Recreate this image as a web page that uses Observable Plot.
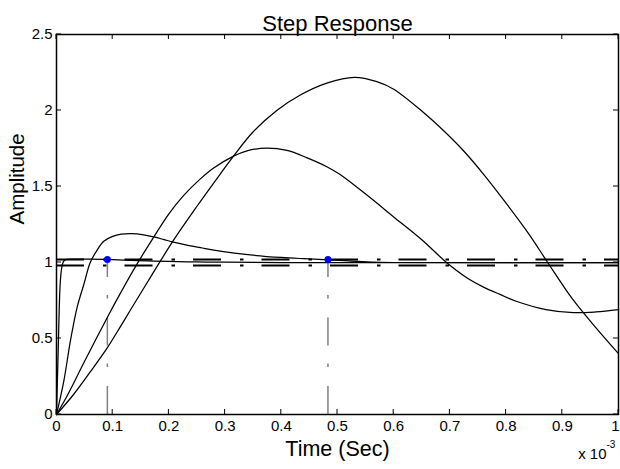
<!DOCTYPE html>
<html><head><meta charset="utf-8">
<script src="https://cdn.jsdelivr.net/npm/d3@7"></script>
<script src="https://cdn.jsdelivr.net/npm/@observablehq/plot@0.6"></script>
<style>html,body{margin:0;padding:0;background:#fff;}</style>
</head><body><div id="chart"></div>
<script>
// time in units of 1e-3 s
const tA = [0, 0.003, 0.006, 0.008, 0.010, 0.013, 0.018, 0.03, 0.06, 0.09, 0.12, 0.16, 0.2, 0.25, 0.3, 0.4, 0.6, 1.0];
const yA = [0, 0.42, 0.82, 0.93, 0.98, 1.01, 1.02, 1.022, 1.022, 1.02, 1.016, 1.011, 1.007, 1.004, 1.002, 1.0, 1.0, 1.0];

const tB = [0, 0.013, 0.025, 0.037, 0.049, 0.06, 0.072, 0.084, 0.1, 0.115, 0.134, 0.155, 0.173, 0.19, 0.208, 0.23, 0.256, 0.291, 0.345, 0.4, 0.44, 0.483, 0.52, 0.56, 0.6, 1.0];
const yB = [0, 0.22, 0.49, 0.71, 0.86, 1.0, 1.08, 1.14, 1.172, 1.186, 1.19, 1.182, 1.168, 1.152, 1.134, 1.116, 1.098, 1.075, 1.05, 1.033, 1.025, 1.018, 1.01, 1.003, 1.0, 1.0];

const tC = [0, 0.02, 0.05, 0.0906, 0.114, 0.14, 0.173, 0.2, 0.226, 0.256, 0.279, 0.315, 0.339, 0.374, 0.41, 0.445, 0.481, 0.504, 0.55, 0.6, 0.65, 0.694, 0.73, 0.759, 0.789, 0.818, 0.871, 0.92, 0.96, 1.0];
const yC = [0, 0.13, 0.35, 0.64, 0.8, 0.97, 1.167, 1.32, 1.44, 1.55, 1.62, 1.70, 1.735, 1.752, 1.737, 1.69, 1.63, 1.58, 1.45, 1.30, 1.15, 1.0, 0.9, 0.84, 0.79, 0.745, 0.69, 0.67, 0.675, 0.69];

const tD = [0, 0.03, 0.06, 0.0906, 0.114, 0.131, 0.17, 0.208, 0.25, 0.291, 0.315, 0.35, 0.392, 0.433, 0.481, 0.53, 0.57, 0.6, 0.652, 0.688, 0.723, 0.76, 0.8, 0.84, 0.874, 0.918, 0.96, 1.0];
const yD = [0, 0.13, 0.28, 0.44, 0.58, 0.684, 0.92, 1.145, 1.37, 1.58, 1.70, 1.86, 2.0, 2.1, 2.18, 2.218, 2.19, 2.14, 1.99, 1.87, 1.74, 1.58, 1.39, 1.19, 1.0, 0.76, 0.57, 0.40];

const settleLevels = [0.98, 1.02];
const settleTimes = [0.0905, 0.483];
const settleValues = [1.02, 1.02];

const xTicks = [0, 0.1, 0.2, 0.3, 0.4, 0.5, 0.6, 0.7, 0.8, 0.9, 1];
const xTickLabels = ["0", "0.1", "0.2", "0.3", "0.4", "0.5", "0.6", "0.7", "0.8", "0.9", "1"];
const yTicks = [0, 0.5, 1, 1.5, 2, 2.5];
const yTickLabels = ["0", "0.5", "1", "1.5", "2", "2.5"];

const titleText = "Step Response";
const xLabel = "Time (Sec)";
const yLabel = "Amplitude";
const xMult = "x 10";
const xExp = "-3";

const rows = (t, y, name) => t.map((d, i) => ({t: d, y: y[i], name}));
const curves = [rows(tA, yA, "A"), rows(tB, yB, "B"), rows(tC, yC, "C"), rows(tD, yD, "D")];
const settle = settleTimes.map((t, i) => ({t, y: settleValues[i]}));
const dashDot = "28,19,3.5,18";
const font = "'Liberation Sans', Arial, Helvetica, sans-serif";
const fmtX = d => xTickLabels[xTicks.indexOf(d)];
const lastX = xTicks[xTicks.length - 1];

const chart = Plot.plot({
  width: 620, height: 469,
  marginTop: 34, marginBottom: 55, marginLeft: 56, marginRight: 2,
  style: {fontFamily: font, background: "white", color: "black"},
  x: {domain: [0, 1]},
  y: {domain: [0, 2.5]},
  marks: [
    Plot.ruleY(settleLevels, {stroke: "black", strokeWidth: 2, strokeDasharray: dashDot}),
    Plot.ruleX(settle, {x: "t", y1: 0, y2: "y", stroke: "#808080", strokeWidth: 1.5, strokeDasharray: dashDot}),
    ...curves.map(c => Plot.line(c, {x: "t", y: "y", stroke: "black", strokeWidth: 1.25, curve: "catmull-rom"})),
    Plot.dot(settle, {x: "t", y: "y", fill: "blue", r: 3.5}),
    Plot.axisX(xTicks.filter(d => d !== lastX), {anchor: "bottom", tickSize: 0, tickPadding: 6, fontSize: 15,
      tickFormat: fmtX, label: null}),
    Plot.axisX([lastX], {anchor: "bottom", tickSize: 0, tickPadding: 6, fontSize: 15, dx: -3,
      tickFormat: fmtX, label: null}),
    Plot.axisY(yTicks, {anchor: "left", tickSize: 0, tickPadding: 4, fontSize: 15,
      tickFormat: d => yTickLabels[yTicks.indexOf(d)], label: null}),
    Plot.frame({stroke: "black", strokeWidth: 1.5}),
    Plot.text([titleText], {text: d => d, frameAnchor: "top", dy: -19, fontSize: 22}),
    Plot.text([xLabel], {text: d => d, frameAnchor: "bottom", dy: 41, fontSize: 21.5}),
    Plot.text([yLabel], {text: d => d, frameAnchor: "left", dx: -39, rotate: -90, fontSize: 20.5}),
    Plot.text([xMult], {text: d => d, frameAnchor: "bottom-right", textAnchor: "end", dx: -12, dy: 44, fontSize: 15}),
    Plot.text([xExp], {text: d => d, frameAnchor: "bottom-right", textAnchor: "start", dx: -12, dy: 33, fontSize: 10})
  ]
});

// inward tick marks on all four sides, placed through the plot's own scales
const sx = chart.scale("x"), sy = chart.scale("y");
const g = d3.select(chart).append("g").attr("stroke", "black").attr("stroke-width", 1);
const x0 = sx.apply(0), x1 = sx.apply(1), y0 = sy.apply(0), y1 = sy.apply(2.5);
xTicks.forEach(v => {
  const X = sx.apply(v);
  g.append("line").attr("x1", X).attr("x2", X).attr("y1", y0).attr("y2", y0 - 5);
  g.append("line").attr("x1", X).attr("x2", X).attr("y1", y1).attr("y2", y1 + 5);
});
yTicks.forEach(v => {
  const Y = sy.apply(v);
  g.append("line").attr("x1", x0).attr("x2", x0 + 5).attr("y1", Y).attr("y2", Y);
  g.append("line").attr("x1", x1).attr("x2", x1 - 5).attr("y1", Y).attr("y2", Y);
});
document.getElementById("chart").appendChild(chart);
</script>
</body></html>
